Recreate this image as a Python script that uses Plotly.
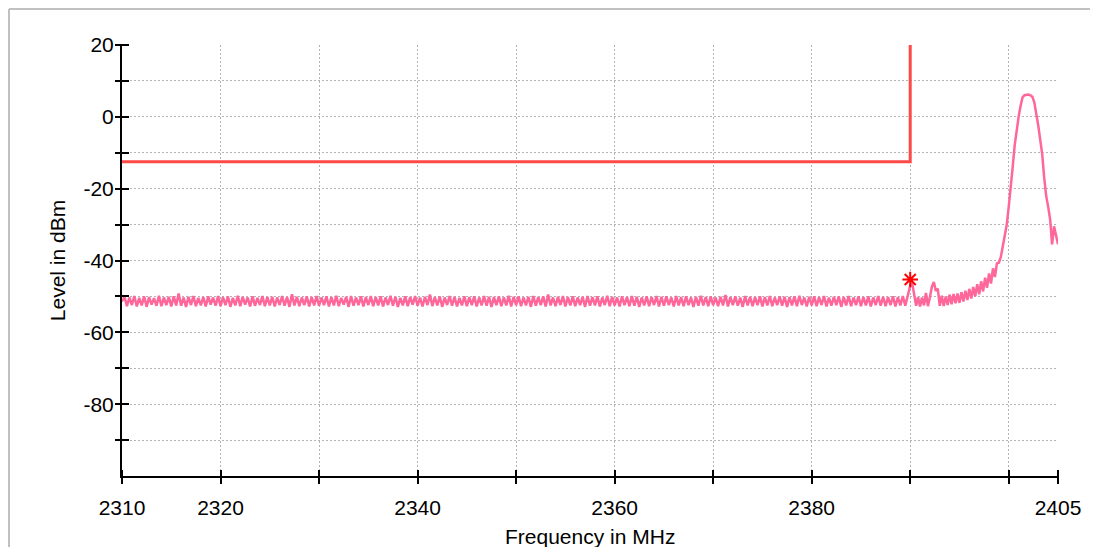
import plotly.graph_objects as go

# Spectrum trace, flat part: sweep points every 0.25 MHz from 2310 MHz
flat_start = 2310.0
flat_step = 0.25
flat_level = [
    -51.4, -50.1, -52.7, -50.3, -52.4, -49.9, -52.8, -50.4, -52.5, -50.0, -52.9, -50.2, -52.3, -50.5, -52.6, -49.8, -52.7, -50.3, -52.4, -50.1,
    -52.8, -50.0, -52.5, -49.2, -52.6, -50.3, -52.9, -50.1, -52.4, -49.9, -52.7, -50.4, -52.5, -50.2, -52.8, -50.0, -52.3, -50.3, -52.6, -49.9,
    -52.7, -50.2, -52.4, -50.0, -52.9, -50.4, -52.5, -49.8, -52.7, -50.1, -52.3, -50.3, -52.8, -50.0, -52.6, -50.4, -52.4, -49.9, -52.7, -50.2,
    -52.5, -50.1, -52.8, -50.3, -52.4, -49.9, -52.6, -50.2, -52.9, -49.4, -52.5, -50.1, -52.7, -50.3, -52.4, -50.0, -52.8, -50.2, -52.5, -49.9,
    -52.6, -50.3, -52.4, -50.0, -52.8, -50.2, -52.5, -49.8, -52.7, -50.4, -52.3, -50.1, -52.9, -49.9, -52.6, -50.3, -52.4, -50.0, -52.8, -50.2,
    -52.4, -49.9, -52.7, -50.2, -52.5, -50.0, -52.8, -50.3, -52.4, -49.8, -52.6, -50.1, -52.9, -50.4, -52.5, -50.0, -52.7, -50.2, -52.3, -49.9,
    -52.6, -50.3, -52.8, -50.1, -52.4, -49.5, -52.7, -50.2, -52.5, -50.0, -52.9, -50.3, -52.4, -49.9, -52.6, -50.1, -52.8, -50.4, -52.5, -50.0,
    -52.7, -50.2, -52.4, -50.0, -52.8, -50.3, -52.5, -49.9, -52.6, -50.1, -52.9, -50.2, -52.4, -50.0, -52.7, -50.3, -52.5, -49.8, -52.8, -50.1,
    -52.4, -50.0, -52.7, -50.3, -52.5, -50.1, -52.9, -49.9, -52.6, -50.2, -52.4, -50.0, -52.8, -49.5, -52.5, -50.3, -52.7, -50.1, -52.4, -49.9,
    -52.8, -50.2, -52.5, -50.0, -52.7, -50.3, -52.4, -50.1, -52.9, -49.9, -52.6, -50.2, -52.5, -50.0, -52.8, -50.3, -52.4, -49.8, -52.7, -50.1,
    -52.5, -50.3, -52.8, -50.0, -52.4, -50.2, -52.7, -49.9, -52.6, -50.1, -52.9, -50.3, -52.5, -50.0, -52.7, -50.2, -52.4, -49.9, -52.8, -50.1,
    -52.6, -50.0, -52.4, -50.3, -52.8, -49.9, -52.5, -50.2, -52.7, -50.0, -52.4, -50.3, -52.9, -50.1, -52.6, -49.8, -52.5, -50.2, -52.7, -50.0,
    -52.4, -50.3, -52.7, -50.1, -52.5, -49.6, -52.8, -50.2, -52.4, -50.0, -52.6, -50.3, -52.9, -49.9, -52.5, -50.1, -52.7, -50.2, -52.4, -50.0,
    -52.8, -50.2, -52.5, -49.9, -52.7, -50.3, -52.4, -50.0, -52.6, -50.1, -52.9, -50.2, -52.5, -50.0, -52.7, -49.8, -52.4, -50.3, -52.8, -50.1,
    -52.5, -50.0, -52.7, -50.2, -52.4, -49.9, -52.8, -50.3, -52.6, -50.1, -52.4, -50.0, -52.9, -50.2, -52.5, -49.9, -52.7, -50.3, -52.4, -50.0,
    -52.7, -50.2, -52.5, -50.0, -52.8, -50.3, -52.4, -49.9, -52.6, -50.1, -52.7, -50.2, -52.4, -50.0, -52.8, -50.2, -52.5, -49.9, -52.6, -49.7,
]

# Spectrum trace near the carrier: sweep points every 0.2 MHz from 2390 MHz
tail_start = 2390.0
tail_step = 0.2
tail_level = [
    -47.0, -46.3, -50.0, -52.6, -50.2, -52.8, -50.3, -52.5, -49.0, -52.7,
    -50.2, -47.3, -46.0, -48.5, -47.8, -52.6, -49.8, -52.7, -50.0, -52.4,
    -49.5, -52.2, -49.3, -51.9, -49.2, -51.8, -48.8, -51.4, -48.4, -51.0,
    -47.9, -50.6, -47.4, -50.0, -46.6, -49.4, -45.8, -48.6, -44.8, -47.6,
    -43.6, -46.4, -42.2, -44.6, -40.8, -40.6, -39.0, -36.0, -33.0, -30.0,
    -25.0, -20.0, -14.0, -8.0, -3.5, 0.0, 3.0, 5.4, 6.0, 6.2,
    6.2, 6.0, 5.6, 4.0, 1.0, -2.5, -6.5, -10.5, -17.0, -22.0,
    -25.0, -28.5, -35.5, -30.5, -33.0, -35.5,
]

# Limit line
limit_freq = [2310, 2390, 2390]
limit_level = [-12.5, -12.5, 20]

# Peak marker
marker_freq = [2390]
marker_level = [-45.3]

# Axis ticks
x_tickvals = [2310, 2320, 2330, 2340, 2350, 2360, 2370, 2380, 2390, 2400, 2405]
x_ticktext = ["2310", "2320", "", "2340", "", "2360", "", "2380", "", "", "2405"]
y_tickvals = [-90, -80, -70, -60, -50, -40, -30, -20, -10, 0, 10, 20]
y_ticktext = ["", "-80", "", "-60", "", "-40", "", "-20", "", "0", "", "20"]

freq = [round(flat_start + flat_step * i, 2) for i in range(len(flat_level))]
freq += [round(tail_start + tail_step * i, 2) for i in range(len(tail_level))]
level = flat_level + tail_level

font = "Liberation Sans, Arial, sans-serif"

fig = go.Figure()

fig.add_trace(go.Scatter(
    x=freq, y=level, mode="lines",
    line=dict(color="#ff6699", width=2.5),
    showlegend=False,
))

fig.add_trace(go.Scatter(
    x=marker_freq, y=marker_level, mode="markers",
    marker=dict(symbol="asterisk", size=13, color="#ff0000",
                line=dict(color="#ff0000", width=2)),
    showlegend=False,
))

# limit line sits on the overlay axes, which draw the crossing tick marks
fig.add_trace(go.Scatter(
    x=limit_freq, y=limit_level, mode="lines",
    line=dict(color="#ff4848", width=3),
    xaxis="x2", yaxis="y2", showlegend=False,
))

plot_w = 1090 - 114 - 40
plot_h = 539 - 37 - 71

axis_common = dict(
    showline=True, linecolor="black", linewidth=2, ticks="",
    showgrid=True, gridcolor="#b4b4b4", gridwidth=1, griddash="2px,2px",
    zeroline=False, tickfont=dict(family=font, size=21, color="black"),
    automargin=False,
)

# outer frame: only the top and left edges show inside the window
frame_left = -113 / plot_w
frame_top = 1 + 36 / plot_h

fig.update_layout(
    width=1090, height=539,
    margin=dict(l=114, r=40, t=37, b=71),
    paper_bgcolor="white", plot_bgcolor="white",
    font=dict(family=font, color="black"),
    xaxis=dict(
        range=[2310, 2405], tickmode="array",
        tickvals=x_tickvals, ticktext=x_ticktext,
        ticklabelstandoff=12,
        **axis_common,
    ),
    yaxis=dict(
        range=[-100, 20], tickmode="array",
        tickvals=y_tickvals, ticktext=y_ticktext,
        ticklabelstandoff=2,
        title=dict(text="Level in dBm", font=dict(family=font, size=21), standoff=12),
        **axis_common,
    ),
    xaxis2=dict(
        range=[2310, 2405], overlaying="x", anchor="free", side="bottom",
        position=7 / plot_h,
        tickmode="array", tickvals=x_tickvals,
        ticks="outside", ticklen=14, tickwidth=2, tickcolor="black",
        showticklabels=False, showgrid=False, showline=False, zeroline=False,
    ),
    yaxis2=dict(
        range=[-100, 20], overlaying="y", anchor="free", side="left",
        position=7 / plot_w,
        tickmode="array", tickvals=y_tickvals,
        ticks="outside", ticklen=14, tickwidth=2, tickcolor="black",
        showticklabels=False, showgrid=False, showline=False, zeroline=False,
    ),
    annotations=[dict(
        text="Frequency in MHz", xref="paper", yref="paper",
        x=0.5, y=-60 / plot_h, xanchor="center", yanchor="middle",
        showarrow=False, font=dict(family=font, size=21, color="black"),
    )],
    shapes=[
        dict(type="line", xref="paper", yref="paper",
             x0=frame_left, x1=1.2, y0=frame_top, y1=frame_top,
             line=dict(color="#c0c0c0", width=2), layer="below"),
        dict(type="line", xref="paper", yref="paper",
             x0=frame_left, x1=frame_left, y0=-0.4, y1=frame_top,
             line=dict(color="#c0c0c0", width=2), layer="below"),
    ],
)

fig.write_html("out.html")
